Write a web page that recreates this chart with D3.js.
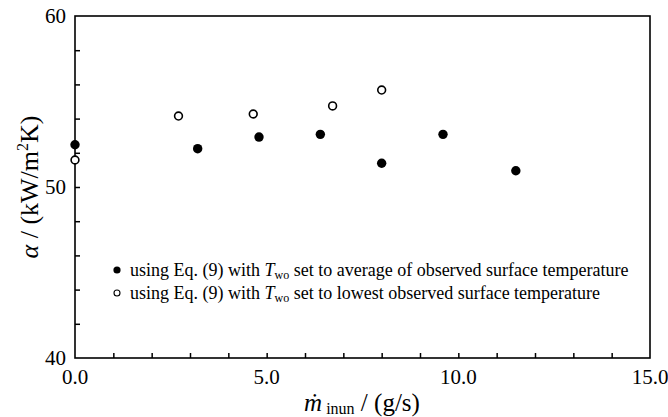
<!DOCTYPE html>
<html>
<head>
<meta charset="utf-8">
<script src="https://cdn.jsdelivr.net/npm/d3@7"></script>
<style>
  html, body { margin: 0; padding: 0; background: #fff; }
  svg text { font-family: "Liberation Serif", "Times New Roman", "DejaVu Serif", serif; fill: #000; }
</style>
</head>
<body>
<svg id="chart" width="668" height="417"></svg>
<script>
// Inundation mass flow rate (g/s) and heat transfer coefficient (kW/m2K)
const flowAvg = [0.0, 3.2, 4.8, 6.4, 8.0, 9.6, 11.5];
const alphaAvg = [52.47, 52.24, 52.92, 53.08, 51.39, 53.08, 50.95];
const flowLow = [0.0, 2.7, 4.65, 6.72, 8.0];
const alphaLow = [51.58, 54.15, 54.27, 54.74, 55.67];

const xMajorTicks = [0, 5, 10, 15];
const yMajorTicks = [40, 50, 60];

const svg = d3.select("#chart");
const m = { left: 75, right: 18, top: 16, bottom: 59 };
const W = 668, H = 417;

const x = d3.scaleLinear().domain([0, 15]).range([m.left, W - m.right]);
const y = d3.scaleLinear().domain([40, 60]).range([H - m.bottom, m.top]);

// inner minor ticks
const xTicks = d3.range(1, 15, 1);
const yTicks = d3.range(42, 60, 2);

const g = svg.append("g").attr("font-family", "Liberation Serif, serif");

g.append("g")
  .attr("transform", `translate(0,${y(40)})`)
  .call(d3.axisBottom(x).tickValues(xTicks).tickSize(-5).tickFormat(""))
  .call(a => a.select(".domain").remove())
  .call(a => a.selectAll("line").attr("stroke-width", 1.5));

g.append("g")
  .attr("transform", `translate(${x(0)},0)`)
  .call(d3.axisLeft(y).tickValues(yTicks).tickSize(-5).tickFormat(""))
  .call(a => a.select(".domain").remove())
  .call(a => a.selectAll("line").attr("stroke-width", 1.5));

// frame
g.append("rect")
  .attr("x", x(0)).attr("y", y(60))
  .attr("width", x(15) - x(0)).attr("height", y(40) - y(60))
  .attr("fill", "none").attr("stroke", "#000").attr("stroke-width", 1.6);

// major tick labels
g.selectAll(".xl").data(xMajorTicks).join("text")
  .attr("x", d => x(d)).attr("y", y(40) + 26)
  .attr("text-anchor", "middle").attr("font-size", 21)
  .text(d => d3.format(".1f")(d));

g.selectAll(".yl").data(yMajorTicks).join("text")
  .attr("x", x(0) - 9).attr("y", d => y(d) + 7)
  .attr("text-anchor", "end").attr("font-size", 21)
  .text(d => d);

// axis titles
const xt = g.append("text")
  .attr("x", 362).attr("y", 411)
  .attr("text-anchor", "middle").attr("font-size", 25);
xt.append("tspan").attr("font-style", "italic").text("ṁ");
xt.append("tspan").attr("font-size", 16).attr("dy", 3).text(" inun");
xt.append("tspan").attr("dy", -3).text(" / (g/s)");

const yt = g.append("text")
  .attr("transform", `translate(38,${y(50)}) rotate(-90)`)
  .attr("text-anchor", "middle").attr("font-size", 26);
yt.append("tspan").attr("font-style", "italic").text("α");
yt.append("tspan").text(" / (kW/m");
yt.append("tspan").attr("font-size", 16).attr("dy", -10).text("2");
yt.append("tspan").attr("dy", 10).text("K)");

// data points
const avgPts = flowAvg.map((v, i) => [v, alphaAvg[i]]);
const lowPts = flowLow.map((v, i) => [v, alphaLow[i]]);

g.selectAll(".low").data(lowPts).join("circle")
  .attr("cx", d => x(d[0])).attr("cy", d => y(d[1])).attr("r", 3.9)
  .attr("fill", "#fff").attr("stroke", "#000").attr("stroke-width", 1.6);

g.selectAll(".avg").data(avgPts).join("circle")
  .attr("cx", d => x(d[0])).attr("cy", d => y(d[1])).attr("r", 4.7)
  .attr("fill", "#000");

// legend
const legend = [
  { filled: true, tail: " set to average of observed surface temperature" },
  { filled: false, tail: " set to lowest observed surface temperature" }
];
const lg = g.append("g").attr("transform", "translate(117,270)");
legend.forEach((d, i) => {
  const row = lg.append("g").attr("transform", `translate(0,${i * 23})`);
  row.append("circle").attr("r", d.filled ? 3.6 : 3)
    .attr("fill", d.filled ? "#000" : "#fff")
    .attr("stroke", "#000").attr("stroke-width", d.filled ? 0 : 1.1);
  const t = row.append("text").attr("x", 13).attr("y", 6).attr("font-size", 18);
  t.append("tspan").text("using Eq. (9) with ");
  t.append("tspan").attr("font-style", "italic").text("T");
  t.append("tspan").attr("font-size", 12).attr("dy", 3).text("wo");
  t.append("tspan").attr("dy", -3).text(d.tail);
});
</script>
</body>
</html>
